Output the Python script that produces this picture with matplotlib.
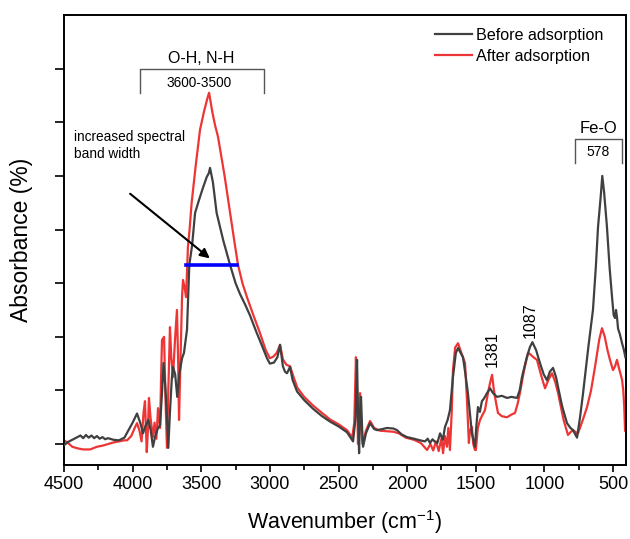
import matplotlib
matplotlib.use("Agg")
import matplotlib.pyplot as plt
from matplotlib.ticker import MultipleLocator

plt.rcParams['font.family'] = ['Liberation Sans', 'DejaVu Sans']
plt.rcParams['mathtext.default'] = 'regular'

before_wn = [4500, 4470, 4440, 4410, 4380, 4360, 4340, 4320, 4300, 4280, 4260, 4240, 4220, 4200,
             4180, 4140, 4100, 4060, 4030, 4000,
             3968, 3945, 3924, 3905, 3885, 3868, 3852, 3835, 3815, 3800, 3785, 3775, 3760, 3748,
             3740, 3728, 3715, 3706, 3690, 3675, 3660, 3640, 3626, 3604, 3587, 3567, 3545, 3520,
             3490, 3460, 3445, 3436, 3428, 3415, 3388, 3340, 3290, 3250, 3218, 3180, 3145, 3100, 3060, 3021,
             3000, 2970, 2945, 2926, 2905, 2890, 2875, 2853, 2835, 2802, 2750, 2686, 2620, 2562,
             2500, 2438, 2394, 2375, 2365, 2358, 2350, 2343, 2336, 2328, 2321, 2300, 2270, 2240,
             2219, 2180, 2147, 2100, 2074, 2040, 2001, 1950, 1906, 1870, 1850, 1833, 1815, 1800, 1780, 1760,
             1740, 1724, 1705, 1688, 1666, 1645, 1629, 1610, 1593, 1575, 1557, 1540, 1528, 1515,
             1506, 1495, 1484, 1470, 1455, 1440, 1418, 1396, 1374, 1345, 1310, 1272, 1240, 1199,
             1180, 1163, 1130, 1105, 1087, 1060, 1032, 1005, 981, 960, 937, 915, 900, 870, 835,
             810, 791, 775, 762, 740, 718, 680, 646, 625, 609, 590, 578, 565, 544, 525, 507, 495,
             485, 478, 471, 463, 450, 434, 420, 410]
before_abs = [-0.02, 0.04, 0.08, 0.12, 0.16, 0.11, 0.17, 0.12, 0.16, 0.11, 0.15, 0.10, 0.13, 0.09,
              0.11, 0.08, 0.07, 0.12, 0.26, 0.40,
              0.57, 0.40, 0.20, 0.35, 0.45, 0.25, -0.05, 0.15, 0.30, 0.35, 1.00, 1.51, 1.00, 0.40,
              -0.07, 0.60, 1.20, 1.44, 1.30, 0.88, 1.30, 1.60, 1.70, 2.13, 3.34, 3.70, 4.31, 4.52,
              4.76, 4.98, 5.05, 5.15, 5.05, 4.88, 4.31, 3.80, 3.34, 3.00, 2.80, 2.60, 2.40, 2.10, 1.85, 1.60,
              1.50, 1.52, 1.62, 1.85, 1.45, 1.35, 1.32, 1.44, 1.20, 0.98, 0.82, 0.66, 0.52, 0.42,
              0.33, 0.22, 0.05, 0.50, 1.57, 0.60, -0.17, 0.60, 0.88, 0.30, -0.05, 0.20, 0.39, 0.28,
              0.26, 0.28, 0.30, 0.29, 0.26, 0.18, 0.13, 0.10, 0.07, 0.05, 0.10, 0.02, 0.09, 0.05, 0.02, 0.20,
              0.08, 0.32, 0.45, 0.63, 1.25, 1.70, 1.79, 1.70, 1.62, 1.30, 0.95, 0.50, 0.20, 0.05,
              -0.05, 0.35, 0.69, 0.60, 0.80, 0.85, 0.95, 1.04, 0.95, 0.88, 0.90, 0.86, 0.88, 0.86,
              1.00, 1.25, 1.60, 1.81, 1.90, 1.75, 1.51, 1.30, 1.19, 1.35, 1.42, 1.25, 1.06, 0.70, 0.39,
              0.30, 0.26, 0.18, 0.12, 0.50, 0.95, 1.80, 2.50, 3.30, 4.05, 4.60, 5.00, 4.70, 4.05, 3.30, 2.74, 2.40,
              2.35, 2.50, 2.37, 2.15, 2.05, 1.88, 1.75, 1.62]

after_wn = [4500, 4470, 4440, 4400, 4360, 4310, 4260, 4220, 4180, 4140, 4100, 4060, 4040, 4010,
            3985, 3968, 3950, 3935, 3920, 3910, 3897, 3890, 3881, 3870, 3852, 3840, 3827, 3815,
            3800, 3793, 3786, 3771, 3760, 3750, 3740, 3728, 3718, 3706, 3690, 3677, 3668, 3662,
            3652, 3640, 3633, 3620, 3611, 3597, 3585, 3570, 3555, 3540, 3509, 3480, 3455, 3443,
            3420, 3400, 3378, 3330, 3290, 3260, 3232, 3200, 3167, 3120, 3072, 3030, 3000, 2975,
            2950, 2926, 2905, 2880, 2853, 2830, 2800, 2750, 2686, 2620, 2562, 2500, 2438, 2400,
            2385, 2373, 2365, 2358, 2350, 2343, 2335, 2325, 2300, 2270, 2240, 2200, 2147, 2100,
            2060, 2010, 1950, 1900, 1855, 1830, 1810, 1790, 1770, 1750, 1738, 1725, 1710, 1700,
            1688, 1675, 1666, 1650, 1629, 1605, 1578, 1564, 1550, 1542, 1528, 1518, 1506, 1499,
            1485, 1469, 1450, 1433, 1411, 1395, 1381, 1370, 1360, 1338, 1310, 1272, 1240, 1214,
            1195, 1178, 1150, 1119, 1105, 1080, 1054, 1020, 995, 970, 944, 920, 900, 860, 828,
            810, 791, 770, 755, 720, 689, 660, 631, 600, 580, 560, 540, 522, 500, 485, 471, 455,
            434, 425, 418, 412]
after_abs = [0.07, 0.02, -0.05, -0.08, -0.10, -0.10, -0.05, -0.03, 0.00, 0.03, 0.05, 0.07, 0.07, 0.15,
             0.30, 0.39, 0.25, 0.05, 0.60, 0.80, -0.15, 0.20, 0.86, 0.50, 0.13, 0.40, 0.10, 0.67,
             0.30, 1.20, 1.94, 2.00, 0.80, -0.07, 1.00, 2.18, 1.60, 1.25, 2.00, 2.50, 1.50, 0.45,
             1.50, 2.74, 3.06, 2.90, 2.74, 3.68, 4.00, 4.50, 4.85, 5.20, 5.86, 6.20, 6.45, 6.55,
             6.20, 5.95, 5.73, 5.00, 4.31, 3.80, 3.34, 3.00, 2.74, 2.40, 2.07, 1.75, 1.60, 1.63,
             1.70, 1.85, 1.58, 1.48, 1.45, 1.27, 1.05, 0.88, 0.72, 0.58, 0.46, 0.37, 0.26, 0.12,
             0.40, 1.62, 1.00, 0.00, 0.60, 0.95, 0.30, 0.00, 0.25, 0.43, 0.30, 0.25, 0.24, 0.23,
             0.20, 0.12, 0.08, 0.02, -0.11, 0.00, -0.12, 0.05, -0.13, 0.10, -0.17, 0.15, -0.05, 0.30,
             -0.11, 0.60, 1.38, 1.80, 1.88, 1.70, 1.51, 0.82, 0.02, 0.25, 0.32, 0.00, -0.11, -0.11,
             0.30, 0.45, 0.55, 0.63, 0.95, 1.15, 1.29, 1.05, 0.88, 0.58, 0.52, 0.50, 0.55, 0.58,
             0.75, 0.95, 1.35, 1.70, 1.68, 1.62, 1.57, 1.25, 1.04, 1.20, 1.32, 1.15, 0.95, 0.45, 0.17,
             0.22, 0.26, 0.22, 0.20, 0.45, 0.69, 1.00, 1.44, 1.95, 2.16, 2.00, 1.75, 1.57, 1.38, 1.45, 1.57, 1.40,
             1.20, 1.00, 0.69, 0.25]

series_labels = ["Before adsorption", "After adsorption"]
x_ticks = [4500, 4000, 3500, 3000, 2500, 2000, 1500, 1000, 500]
peak_labels = ["1381", "1087"]
peak_pos = [1382, 1105]
peak_text_y = [1.44, 1.98]

fig = plt.figure(figsize=(6.3, 5.39), dpi=100)
ax = fig.add_axes([0.1016, 0.1373, 0.8921, 0.8349])

ax.plot(before_wn, before_abs, color='#404040', lw=1.6, label=series_labels[0], zorder=3)
ax.plot(after_wn, after_abs, color='#ee3535', lw=1.6, label=series_labels[1], zorder=2)

ax.set_xlim(4500, 405)
ax.set_ylim(-0.39, 8.0)
ax.set_xticks(x_ticks)
ax.xaxis.set_minor_locator(MultipleLocator(250))
ax.set_yticks(range(0, 8))
ax.set_yticklabels([])
ax.tick_params(axis='x', which='major', direction='out', length=5, width=1.2, labelsize=13, pad=3)
ax.tick_params(axis='x', which='minor', direction='out', length=3.5, width=1.2)
ax.tick_params(axis='y', which='major', direction='out', length=6.5, width=1.2)
for s in ax.spines.values():
    s.set_linewidth(1.4)

ax.set_xlabel("Wavenumber (cm$^{-1}$)", fontsize=15.5, labelpad=11)
ax.set_ylabel("Absorbance (%)", fontsize=16.5, labelpad=12)

leg = ax.legend(loc='upper left', bbox_to_anchor=(0.66, 0.972), frameon=False,
                fontsize=11.6, handlelength=2.3, handletextpad=0.25, borderpad=0,
                labelspacing=0.4, borderaxespad=0)

# O-H, N-H bracket
ax.plot([3946, 3946, 3043, 3043], [6.55, 7.0, 7.0, 6.55], color='#555555', lw=1.0)
ax.text(3503, 7.18, "O-H, N-H", ha='center', va='center', fontsize=11.5)
ax.text(3518, 6.73, "3600-3500", ha='center', va='center', fontsize=9.8)

# Fe-O bracket
ax.plot([777, 777, 434, 434], [5.24, 5.69, 5.69, 5.24], color='#555555', lw=1.0)
ax.text(602, 5.88, "Fe-O", ha='center', va='center', fontsize=12)
ax.text(609, 5.45, "578", ha='center', va='center', fontsize=10)

for lbl, px, py in zip(peak_labels, peak_pos, peak_text_y):
    ax.text(px, py, lbl, rotation=90, ha='center', va='bottom', fontsize=11.5)

# spectral band width annotation
ax.text(4427, 5.85, "increased spectral\nband width", ha='left', va='top', fontsize=9.8,
        linespacing=1.25)
ax.annotate("", xy=(3422, 3.43), xytext=(4034, 4.70),
            arrowprops=dict(arrowstyle='-|>', color='black', lw=1.5, mutation_scale=14))
ax.plot([3611, 3240], [3.34, 3.34], color='#0000ff', lw=2.6, zorder=5)

fig.savefig("out.png", dpi=100)
